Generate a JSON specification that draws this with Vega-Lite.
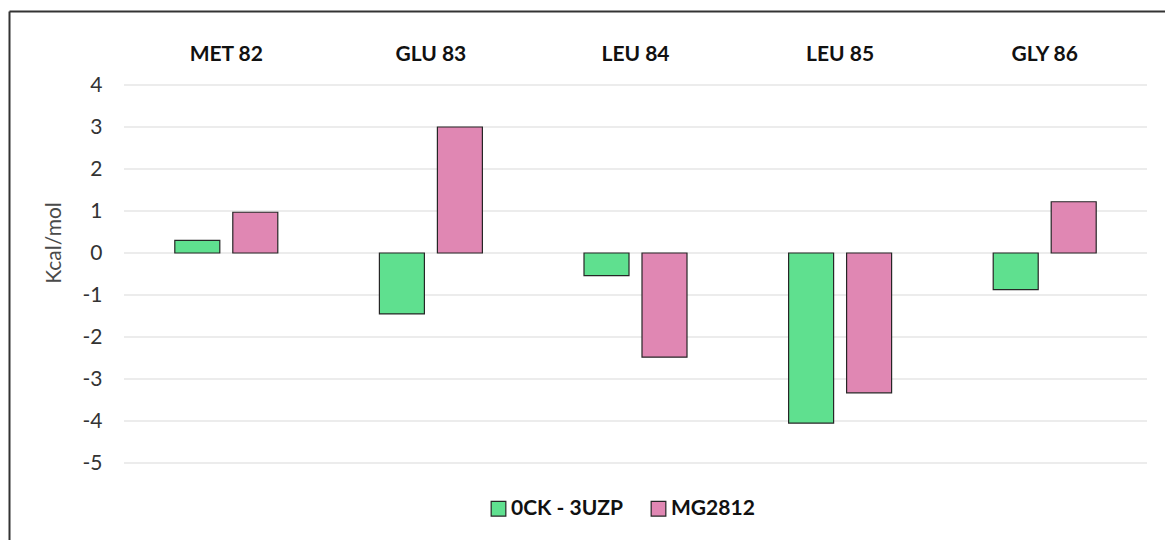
{
  "$schema": "https://vega.github.io/schema/vega-lite/v6.json",
  "width": 1156,
  "height": 529,
  "autosize": {"type": "none"},
  "padding": {"left": 9, "top": 11, "right": 0, "bottom": 0},
  "background": "white",
  "config": {"view": {"stroke": null}, "font": "Lato"},
  "datasets": {
    "bars": [
      {"residue": "MET 82", "series": "0CK - 3UZP", "value": 0.3},
      {"residue": "MET 82", "series": "MG2812", "value": 0.97},
      {"residue": "GLU 83", "series": "0CK - 3UZP", "value": -1.45},
      {"residue": "GLU 83", "series": "MG2812", "value": 3.0},
      {"residue": "LEU 84", "series": "0CK - 3UZP", "value": -0.54},
      {"residue": "LEU 84", "series": "MG2812", "value": -2.48},
      {"residue": "LEU 85", "series": "0CK - 3UZP", "value": -4.05},
      {"residue": "LEU 85", "series": "MG2812", "value": -3.33},
      {"residue": "GLY 86", "series": "0CK - 3UZP", "value": -0.87},
      {"residue": "GLY 86", "series": "MG2812", "value": 1.22}
    ],
    "grid": [
      {"g": -5}, {"g": -4}, {"g": -3}, {"g": -2}, {"g": -1},
      {"g": 0}, {"g": 1}, {"g": 2}, {"g": 3}, {"g": 4}
    ]
  },
  "layer": [
    {
      "data": {"name": "grid"},
      "mark": {"type": "rule", "color": "#d9d9d9", "strokeWidth": 1.2},
      "encoding": {
        "y": {
          "field": "g", "type": "quantitative",
          "scale": {"domain": [-6.833, 5.762], "nice": false, "zero": false},
          "axis": {"orient": "left", "domain": true, "domainColor": "#333333", "domainWidth": 2, "labels": false, "ticks": false, "grid": false, "title": null}
        },
        "x": {
          "datum": "MET 82", "type": "nominal", "bandPosition": 0,
          "scale": {"domain": ["MET 82", "GLU 83", "LEU 84", "LEU 85", "GLY 86"], "paddingInner": 0, "paddingOuter": 0.325, "align": 0.8647},
          "axis": {"orient": "top", "domain": true, "domainColor": "#333333", "domainWidth": 2, "labels": false, "ticks": false, "grid": false, "title": null}
        },
        "x2": {"datum": "GLY 86", "bandPosition": 1}
      }
    },
    {
      "data": {"name": "bars"},
      "mark": {"type": "bar", "stroke": "#262626", "strokeWidth": 1.2},
      "encoding": {
        "x": {
          "field": "residue", "type": "nominal", "sort": null,
          "scale": {"domain": ["MET 82", "GLU 83", "LEU 84", "LEU 85", "GLY 86"], "paddingInner": 0, "paddingOuter": 0.325, "align": 0.8647},
          "axis": {"orient": "top", "domain": false, "ticks": false, "grid": false, "labelAngle": 0, "labelFontWeight": "bold", "labelFontSize": 21, "labelColor": "#111111", "labelPadding": 0, "labelBaseline": "alphabetic", "offset": -49, "title": null}
        },
        "xOffset": {
          "field": "series", "type": "nominal",
          "scale": {"domain": ["0CK - 3UZP", "MG2812"], "paddingInner": 0.224, "paddingOuter": 0.876}
        },
        "y": {
          "field": "value", "type": "quantitative",
          "scale": {"domain": [-6.833, 5.762], "nice": false, "zero": false},
          "axis": {"orient": "left", "values": [-5, -4, -3, -2, -1, 0, 1, 2, 3, 4], "labelExpr": "'' + datum.value", "domain": false, "ticks": false, "grid": false, "labelPadding": 0, "offset": -93, "labelFontSize": 21, "labelColor": "#333333", "title": "Kcal/mol", "titleFontSize": 21, "titleFontWeight": "normal", "titleColor": "#4a4a4a", "titlePadding": 18, "titleY": 231.5}
        },
        "y2": {"datum": 0},
        "color": {
          "field": "series", "type": "nominal",
          "scale": {"domain": ["0CK - 3UZP", "MG2812"], "range": ["#5fe08f", "#e087b3"]},
          "legend": {"orient": "none", "legendX": 479, "legendY": 487, "direction": "horizontal", "title": null, "symbolType": "square", "symbolSize": 215, "symbolStrokeColor": "#262626", "symbolStrokeWidth": 1.2, "labelFontSize": 21, "labelFontWeight": "bold", "labelColor": "#111111", "labelOffset": 2, "columnPadding": 25, "padding": 0}
        }
      }
    }
  ],
  "resolve": {"axis": {"x": "independent", "y": "independent"}}
}
